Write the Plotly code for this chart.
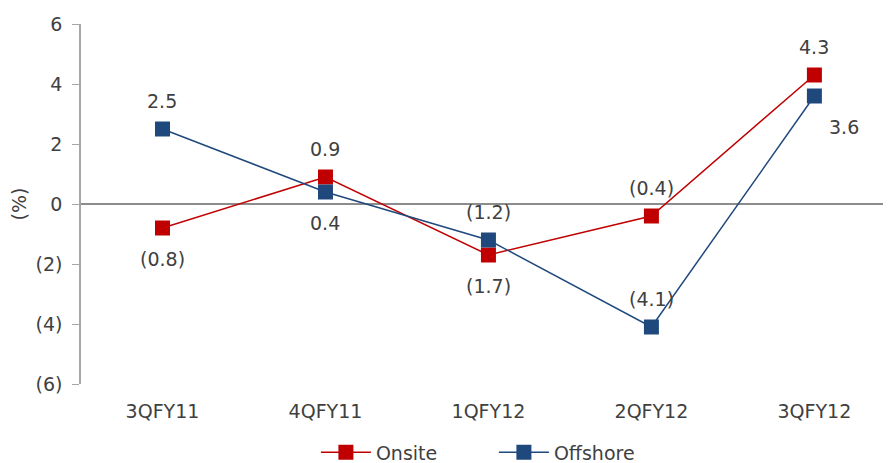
import plotly.graph_objects as go

categories = ["3QFY11", "4QFY11", "1QFY12", "2QFY12", "3QFY12"]
onsite = [-0.8, 0.9, -1.7, -0.4, 4.3]
offshore = [2.5, 0.4, -1.2, -4.1, 3.6]
onsite_labels = ["(0.8)", "0.9", "(1.7)", "(0.4)", "4.3"]
offshore_labels = ["2.5", "0.4", "(1.2)", "(4.1)", "3.6"]
onsite_pos = ["below", "above", "below", "above", "above"]
offshore_pos = ["above", "below", "above", "above", "below_right"]
ytick_vals = [6, 4, 2, 0, -2, -4, -6]
ytick_text = ["6", "4", "2", "0", "(2)", "(4)", "(6)"]

FONT = "'DejaVu Sans', sans-serif"
TXT = "#404040"
FS = 19
SHIFTS = {"above": (0, 28), "below": (0, -31), "below_right": (30, -31)}

fig = go.Figure()
fig.add_trace(go.Scatter(
    x=categories, y=onsite, name="Onsite", mode="lines+markers",
    line=dict(color="#C00000", width=1.5),
    marker=dict(symbol="square", size=15, color="#C00000"),
))
fig.add_trace(go.Scatter(
    x=categories, y=offshore, name="Offshore", mode="lines+markers",
    line=dict(color="#1F497D", width=1.5),
    marker=dict(symbol="square", size=15, color="#1F497D"),
))

for vals, labs, poss in [(onsite, onsite_labels, onsite_pos), (offshore, offshore_labels, offshore_pos)]:
    for c, v, t, p in zip(categories, vals, labs, poss):
        dx, dy = SHIFTS[p]
        fig.add_annotation(x=c, y=v, text=t, showarrow=False, xshift=dx, yshift=dy,
                           xanchor="center", yanchor="middle",
                           font=dict(size=FS, color=TXT, family=FONT))

# page body has 8px margin: figure is sized/positioned to compensate
fig.update_layout(
    width=883, height=455,
    margin=dict(l=73, r=0, t=16, b=79, autoexpand=False),
    paper_bgcolor="white", plot_bgcolor="white",
    font=dict(family=FONT, size=FS, color=TXT),
    showlegend=True,
    legend=dict(orientation="h", x=0.29, xanchor="left", y=-0.19, yanchor="middle",
                font=dict(size=FS, color=TXT), itemwidth=50, entrywidth=113,
                entrywidthmode="pixels"),
    xaxis=dict(range=[-0.5, 4.47], showgrid=False, showline=False, ticks="",
               tickfont=dict(size=FS, color=TXT), zeroline=False, automargin=False,
               ticklabelstandoff=14),
    yaxis=dict(range=[-6, 6], tickvals=ytick_vals, ticktext=ytick_text,
               showgrid=False, showline=True, linecolor="#A6A6A6", linewidth=1.5,
               ticks="outside", ticklen=7, tickcolor="#A6A6A6", automargin=False,
               zeroline=True, zerolinecolor="#8C8C8C", zerolinewidth=2,
               tickfont=dict(size=FS, color=TXT), ticklabelstandoff=6,
               title=dict(text="(%)", font=dict(size=FS, color=TXT), standoff=6)),
)

fig.write_html("out.html")
